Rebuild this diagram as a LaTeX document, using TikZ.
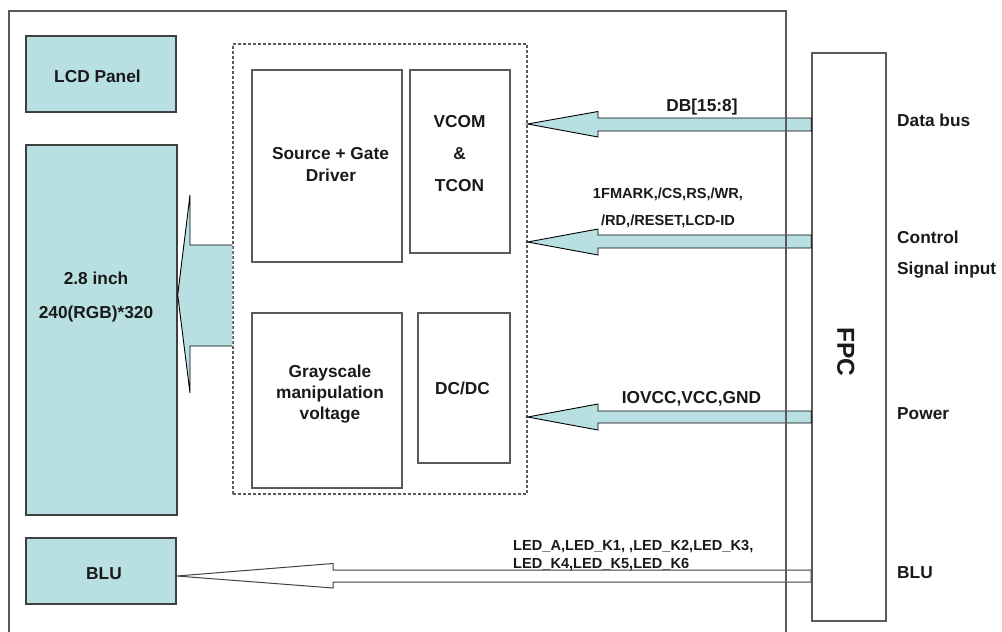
\documentclass[tikz,border=0pt]{standalone}
\usepackage{fontspec}
\setmainfont{Liberation Sans}
\usetikzlibrary{calc}
\definecolor{pbl}{RGB}{184,223,226}
\definecolor{ln}{RGB}{64,64,64}
\definecolor{ln2}{RGB}{90,90,90}
\definecolor{txt}{RGB}{25,25,25}
\tikzset{
  box/.style={draw=ln2, line width=1.6pt, inner sep=0, rectangle},
  bluebox/.style={draw=ln, line width=1.4pt, fill=pbl, inner sep=0, rectangle},
  lbl/.style={font=\bfseries\fontsize{17.3}{20}\selectfont, text=txt, inner sep=0, text height=12.4pt, text depth=0pt},
  slbl/.style={font=\bfseries\fontsize{14.6}{17}\selectfont, text=txt, inner sep=0, text height=10.45pt, text depth=0pt},
  fat/.style={fill=pbl, draw=black, line width=0.9pt, line join=miter},
  hollow/.style={fill=white, draw=ln, line width=1pt, line join=miter},
  frame/.style={draw=ln2, line width=1.5pt},
}
\begin{document}
\begin{tikzpicture}[x=1pt,y=-1pt]
\useasboundingbox (0,0) rectangle (1002,632);

% dashed controller box
\node[draw=ln2, dash pattern=on 3pt off 2pt, line width=1.3pt, minimum width=294pt, minimum height=450pt, inner sep=0] (ic) at (380,269) {};

% blocks
\node[bluebox, minimum width=150pt, minimum height=76pt] (lcd) at (101,74) {};
\node[bluebox, minimum width=151pt, minimum height=370pt] (panel) at (101.5,330) {};
\node[bluebox, minimum width=150pt, minimum height=66pt] (blu) at (101,571) {};
\node[box, minimum width=150pt, minimum height=192pt] (sg) at (327,166) {};
\node[box, minimum width=100pt, minimum height=183pt] (vcom) at (460,161.5) {};
\node[box, minimum width=150pt, minimum height=175pt] (gray) at (327,400.5) {};
\node[box, minimum width=92pt, minimum height=150pt] (dcdc) at (464,388) {};

% block texts
\node[lbl] (tlcd) at (97.5,76) {LCD Panel};
\node[lbl] (tp1) at (96,278) {2.8 inch};
\node[lbl] (tp2) at (96,312) {240(RGB)*320};
\node[lbl] (tblu) at (104,573) {BLU};
\node[lbl] (tsg1) at (330.5,153) {Source + Gate};
\node[lbl] (tsg2) at (331,175) {Driver};
\node[lbl] (tv1) at (459.5,121) {VCOM};
\node[lbl] (tv2) at (459.5,153) {\&};
\node[lbl] (tv3) at (459.5,185) {TCON};
\node[lbl] (tg1) at (330,371) {Grayscale};
\node[lbl] (tg2) at (330,392) {manipulation};
\node[lbl] (tg3) at (330,413) {voltage};
\node[lbl] (tdc) at (462.5,388) {DC/DC};

% big arrow from IC to panel
\coordinate (bt) at ($(panel.east)+(0,-35)$);
\fill[pbl] (ic.west |- 0,245) -- (190,245) -- (190,195) -- (bt) -- (190,393) -- (190,346) -- (ic.west |- 0,346) -- cycle;
\draw[black, line width=0.9pt, line join=miter] (ic.west |- 0,245) -- (190,245) -- (190,195) -- (bt) -- (190,393) -- (190,346) -- (ic.west |- 0,346);

% FPC
\node[box, fill=white, minimum width=74pt, minimum height=568pt] (fpc) at (849,337) {};
\node[lbl, font=\bfseries\fontsize{24.5}{26}\selectfont, text height=17.5pt, rotate=-90] (tfpc) at (846,352) {FPC};

% signal arrows (FPC -> IC)
\path[fat] (fpc.west |- 0,118) -- (598,118) -- (598,111.5) -- (ic.east |- 0,124) -- (598,137) -- (598,131) -- (fpc.west |- 0,131) -- cycle;
\path[fat] (fpc.west |- 0,235) -- (598,235) -- (598,229) -- (ic.east |- 0,242) -- (598,255) -- (598,248) -- (fpc.west |- 0,248) -- cycle;
\path[fat] (fpc.west |- 0,411) -- (598,411) -- (598,404) -- (ic.east |- 0,417) -- (598,430) -- (598,423) -- (fpc.west |- 0,423) -- cycle;
% BLU arrow
\path[hollow] (fpc.west |- 0,570) -- (333,570) -- (333,563.5) -- (blu.east |- 0,576) -- (333,588) -- (333,582) -- (fpc.west |- 0,582) -- cycle;

% outer frame (open at bottom)
\coordinate (fl) at (9,632);
\coordinate (fr) at (786,632);
\draw[frame] (fl) -- (9,11) -- (786,11) -- (fr);

% signal labels
\node[lbl] (ldb) at (702,105) {DB[15:8]};
\node[slbl] (lc1) at (668,193) {1FMARK,/CS,RS,/WR,};
\node[slbl] (lc2) at (668,220) {/RD,/RESET,LCD-ID};
\node[lbl] (lpw) at (691.5,397) {IOVCC,VCC,GND};
\node[slbl, anchor=west] (led1) at (513,545) {LED\_A,LED\_K1, ,LED\_K2,LED\_K3,};
\node[slbl, anchor=west] (led2) at (513,563) {LED\_K4,LED\_K5,LED\_K6};

% right side labels
\node[lbl, anchor=west] (rdb) at (897,120) {Data bus};
\node[lbl, anchor=west] (rc1) at (897,237) {Control};
\node[lbl, anchor=west] (rc2) at (897,268) {Signal input};
\node[lbl, anchor=west] (rpw) at (897,413) {Power};
\node[lbl, anchor=west] (rblu) at (897,572) {BLU};
\end{tikzpicture}
\end{document}
